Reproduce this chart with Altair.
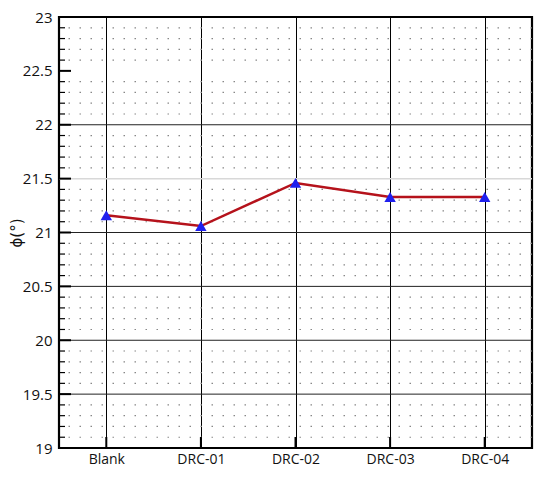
import altair as alt
import pandas as pd

categories = ["Blank", "DRC-01", "DRC-02", "DRC-03", "DRC-04"]
phi = [21.16, 21.06, 21.46, 21.33, 21.33]

y_labels = [19, 19.5, 20, 20.5, 21, 21.5, 22, 22.5, 23]
grid_dark = [19.5, 20, 20.5, 21, 22]
grid_light = [21.5]
major_ticks = [19.5, 20, 20.5, 21, 21.5, 22, 22.5]
minor_vals = [round(19 + 0.1 * i, 1) for i in range(1, 40)]
minor_vals = [v for v in minor_vals if round(v * 2) != v * 2]

W, H = 473, 431
FONT = "Open Sans"

df = pd.DataFrame({"cat": categories, "phi": phi})
xscale = alt.Scale(type="point", domain=categories, padding=0.5)
yscale = alt.Scale(domain=[19, 23], nice=False, zero=False)

xenc = alt.X("cat:N", scale=xscale, sort=categories,
             axis=alt.Axis(title=None, labelAngle=0, labelFont=FONT, labelFontSize=14,
                           labelColor="#111", labelPadding=4, ticks=False, domain=False,
                           grid=True, gridColor="#000", gridWidth=1, gridOpacity=1))
yenc = alt.Y("phi:Q", scale=yscale,
             axis=alt.Axis(title="ϕ(°)", values=y_labels, format="~g", labelFont=FONT,
                           labelFontSize=15, labelColor="#111", labelPadding=7, ticks=False,
                           domain=False, grid=False, titleFont="DejaVu Sans", titleFontSize=15,
                           titleFontWeight="normal", titleColor="#111", titleAngle=270,
                           titleX=-43, titleY=H / 2, titleAlign="center", titleBaseline="middle"))

ysub = alt.Y("phi:Q", scale=yscale, title="ϕ(°)")
xsub = alt.X("cat:N", scale=xscale, sort=categories, title=None)

minor_df = pd.DataFrame({"phi": minor_vals})
base = alt.Chart(df).encode(x=xenc, y=yenc)

minor_grid = alt.Chart(minor_df).mark_rule(color="#888", strokeWidth=1.2, strokeDash=[1.5, 9.5]).encode(y=ysub)
minor_ticks = alt.Chart(minor_df).mark_rule(color="#000", strokeWidth=1.2).encode(
    y=ysub, x=alt.value(0), x2=alt.value(6))
dark_grid = alt.Chart(pd.DataFrame({"phi": grid_dark})).mark_rule(color="#222", strokeWidth=1).encode(y=ysub)
light_grid = alt.Chart(pd.DataFrame({"phi": grid_light})).mark_rule(color="#d8d8d8", strokeWidth=1.5).encode(y=ysub)
major_tk = alt.Chart(pd.DataFrame({"phi": major_ticks})).mark_rule(color="#000", strokeWidth=2).encode(
    y=ysub, x=alt.value(0), x2=alt.value(12))
bottom_tk = alt.Chart(df).mark_rule(color="#000", strokeWidth=2).encode(
    x=xsub, y=alt.value(H), y2=alt.value(H - 11))

line = base.mark_line(color="#b5121b", strokeWidth=2.5)
pts = base.mark_point(shape="triangle-up", filled=True, color="#2020ee", size=130, opacity=1)

chart = alt.layer(base.mark_point(opacity=0), minor_grid, light_grid, dark_grid, line, pts,
                  minor_ticks, major_tk, bottom_tk).properties(
    width=W, height=H,
    background="white",
    autosize=alt.AutoSizeParams(type="none"),
    padding={"left": 51, "top": 9, "right": 10, "bottom": 30},
).configure_view(stroke="#000", strokeWidth=2.2)

chart.save("out.html", embed_options={"renderer": "svg", "actions": False})
